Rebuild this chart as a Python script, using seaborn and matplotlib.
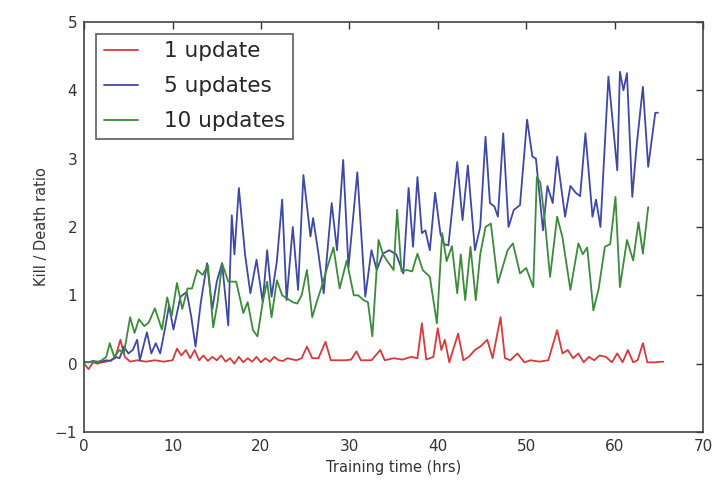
import pandas as pd
import seaborn as sns
import matplotlib
matplotlib.use("Agg")
import matplotlib.pyplot as plt

# traced values: (hours, kill/death ratio) per series
t_1 = [0, 0.5, 1, 1.5, 2, 2.5, 3, 3.5, 4.1, 4.6, 5.2, 6, 7, 8, 9, 10, 10.5, 11, 11.5, 12,
       12.5, 13, 13.5, 14, 14.5, 15, 15.5, 16, 16.5, 17, 17.5, 18, 18.5, 19, 19.5, 20, 20.5,
       21, 21.5, 22, 22.5, 23, 24, 24.6, 25.2, 25.8, 26.5, 27.3, 27.9, 28.5, 29.5, 30.2, 30.8,
       31.3, 32.5, 33.5, 34.0, 35, 36, 37, 37.7, 38.2, 38.7, 39.5, 40.0, 40.4, 40.8, 41.3,
       42.3, 42.9, 43.5, 44.2, 44.8, 45.6, 46.2, 47.1, 47.6, 48.2, 49, 49.8, 50.5, 51.5, 52.5,
       53.5, 54.1, 54.7, 55.3, 55.9, 56.5, 57.1, 57.7, 58.3, 59.0, 59.7, 60.3, 60.9, 61.5,
       62.1, 62.6, 63.2, 63.7, 64.5, 65.5]
v_1 = [0.0, -0.08, 0.02, 0.0, 0.02, 0.03, 0.05, 0.08, 0.35, 0.1, 0.03, 0.05, 0.03, 0.05, 0.03,
       0.05, 0.22, 0.12, 0.2, 0.08, 0.2, 0.05, 0.12, 0.04, 0.1, 0.05, 0.12, 0.03, 0.08, 0.0,
       0.1, 0.02, 0.08, 0.03, 0.1, 0.02, 0.08, 0.03, 0.1, 0.05, 0.04, 0.08, 0.05, 0.08, 0.25,
       0.08, 0.08, 0.32, 0.05, 0.05, 0.05, 0.06, 0.18, 0.05, 0.05, 0.2, 0.05, 0.08, 0.06, 0.1,
       0.08, 0.59, 0.06, 0.1, 0.52, 0.2, 0.35, 0.02, 0.44, 0.05, 0.1, 0.2, 0.25, 0.35, 0.08,
       0.68, 0.08, 0.05, 0.15, 0.02, 0.05, 0.03, 0.05, 0.49, 0.15, 0.2, 0.08, 0.15, 0.02, 0.1,
       0.05, 0.12, 0.1, 0.02, 0.15, 0.02, 0.2, 0.02, 0.05, 0.3, 0.02, 0.02, 0.03]

t_5 = [0, 0.5, 1, 1.5, 2, 2.5, 3, 3.5, 4, 4.5, 5, 5.5, 6, 6.3, 7.1, 7.6, 8.1, 8.6, 9.2, 9.6,
       10.1, 10.9, 11.6, 12.1, 12.6, 13.2, 13.9, 14.5, 15.0, 15.6, 16.3, 16.7, 17.0, 17.5,
       18.2, 18.8, 19.5, 20.2, 20.7, 21.2, 21.8, 22.4, 22.9, 23.6, 24.2, 24.8, 25.6, 25.9,
       26.5, 27.1, 28.0, 28.6, 29.3, 29.9, 30.9, 31.8, 32.5, 33.1, 33.8, 34.5, 35.3, 36.1,
       36.7, 37.2, 37.7, 38.2, 38.6, 39.1, 39.7, 40.3, 40.7, 41.2, 42.2, 42.8, 43.4, 44.2,
       44.8, 45.4, 45.9, 46.4, 46.8, 47.4, 48.0, 48.6, 49.3, 50.1, 50.7, 51.1, 51.9, 52.4,
       53.0, 53.5, 54.4, 55.0, 55.6, 56.1, 56.7, 57.5, 57.9, 58.4, 59.3, 60.3, 60.6, 61.0,
       61.4, 62.0, 62.5, 63.2, 63.8, 64.6, 64.9]
v_5 = [0.03, 0.02, 0.04, 0.03, 0.03, 0.05, 0.04, 0.1, 0.08, 0.25, 0.15, 0.2, 0.35, 0.05, 0.46,
       0.15, 0.3, 0.15, 0.55, 0.85, 0.5, 0.98, 1.05, 0.7, 0.25, 0.9, 1.47, 0.8, 1.2, 1.47,
       0.56, 2.17, 1.6, 2.57, 1.6, 1.03, 1.52, 0.9, 1.66, 0.98, 1.5, 2.4, 0.93, 2.0, 1.08,
       2.76, 1.86, 2.13, 1.61, 1.03, 2.35, 1.66, 2.98, 1.41, 2.8, 0.98, 1.66, 1.37, 1.61,
       1.66, 1.6, 1.32, 2.57, 1.71, 2.73, 1.91, 1.95, 1.66, 2.5, 1.9, 1.75, 1.73, 2.95, 2.1,
       2.9, 1.66, 2.0, 3.32, 2.35, 2.3, 2.15, 3.37, 2.0, 2.25, 2.32, 3.57, 3.03, 3.0, 1.95,
       2.6, 2.35, 3.03, 2.15, 2.6, 2.5, 2.45, 3.37, 2.15, 2.4, 2.0, 4.2, 2.83, 4.27, 4.0,
       4.25, 2.44, 3.2, 4.05, 2.88, 3.67, 3.67]

t_10 = [0, 0.5, 1, 1.5, 2, 2.5, 2.9, 3.4, 4.0, 4.5, 5.2, 5.7, 6.2, 6.8, 7.3, 8.0, 8.8, 9.4,
        9.9, 10.5, 11.1, 11.7, 12.2, 12.8, 13.4, 14.0, 14.6, 15.1, 15.6, 16.3, 17.2, 18.0,
        18.5, 19.1, 19.6, 20.2, 20.7, 21.2, 21.8, 22.4, 23.0, 23.6, 24.1, 24.6, 25.2, 25.8,
        26.3, 26.8, 27.5, 28.2, 28.9, 29.7, 30.5, 31.0, 31.6, 32.1, 32.6, 33.3, 33.8, 34.3,
        35.0, 35.4, 35.9, 36.5, 37.1, 37.7, 38.3, 39.1, 39.9, 40.5, 41.0, 41.6, 42.2, 42.6,
        43.1, 43.7, 44.3, 44.8, 45.4, 46.0, 46.8, 47.9, 48.5, 49.3, 50.0, 50.8, 51.2, 51.6,
        52.1, 52.7, 53.5, 54.1, 55.0, 55.9, 56.4, 56.9, 57.6, 58.2, 58.9, 59.5, 60.1, 60.6,
        61.4, 62.1, 62.7, 63.2, 63.8]
v_10 = [0.02, 0.02, 0.03, 0.02, 0.05, 0.1, 0.3, 0.1, 0.2, 0.15, 0.68, 0.45, 0.65, 0.55, 0.6,
        0.81, 0.5, 0.97, 0.7, 1.18, 0.8, 1.1, 1.1, 1.37, 1.3, 1.44, 0.53, 0.9, 1.47, 1.2, 1.2,
        0.74, 0.9, 0.49, 0.4, 0.9, 1.2, 0.68, 1.22, 1.0, 0.95, 0.9, 0.88, 1.0, 1.37, 0.68, 0.9,
        1.1, 1.41, 1.7, 1.1, 1.51, 1.0, 1.0, 0.93, 0.9, 0.4, 1.81, 1.6, 1.5, 1.37, 2.25, 1.35,
        1.37, 1.35, 1.61, 1.37, 1.27, 0.59, 1.91, 1.5, 1.72, 1.03, 1.6, 0.93, 1.71, 0.93, 1.6,
        2.0, 2.05, 1.18, 1.66, 1.76, 1.32, 1.4, 1.12, 2.73, 2.65, 2.1, 1.27, 2.15, 1.85, 1.08,
        1.76, 1.6, 1.7, 0.78, 1.1, 1.71, 1.75, 2.44, 1.12, 1.81, 1.51, 2.07, 1.61, 2.29]

series = [("1 update", t_1, v_1, "#d83a3a"),
          ("5 updates", t_5, v_5, "#3e48a6"),
          ("10 updates", t_10, v_10, "#3a8c3a")]

sns.set_style("white")
plt.rcParams["font.family"] = ["DejaVu Sans"]

fig = plt.figure(figsize=(7.13, 4.86), dpi=100)
ax = fig.add_axes([0.118, 0.111, 0.868, 0.844])

for name, t, v, col in series:
    df = pd.DataFrame({"time": t, "ratio": v})
    sns.lineplot(data=df, x="time", y="ratio", ax=ax, color=col, lw=1.3,
                 estimator=None, label=name)

ax.set_xlim(0, 70)
ax.set_ylim(-1, 5)
ax.set_xticks(range(0, 71, 10))
ax.set_yticks(range(-1, 6))
ax.set_xlabel("Training time (hrs)", fontsize=10.5, color="#333333")
ax.set_ylabel("Kill / Death ratio", fontsize=10.5, color="#333333")
ax.tick_params(direction="in", length=5, width=1, top=True, right=True,
               labelsize=11, colors="#333333", pad=5)
for s in ax.spines.values():
    s.set_color("#444444")
    s.set_linewidth(1.2)

leg = ax.legend(loc="upper left", fontsize=15.5, frameon=True, fancybox=False,
                handlelength=1.6, handletextpad=1.2, borderpad=0.35,
                labelspacing=0.7, borderaxespad=0.55)
leg.get_frame().set_edgecolor("#333333")
leg.get_frame().set_linewidth(1.2)

fig.savefig("out.png", dpi=100)
